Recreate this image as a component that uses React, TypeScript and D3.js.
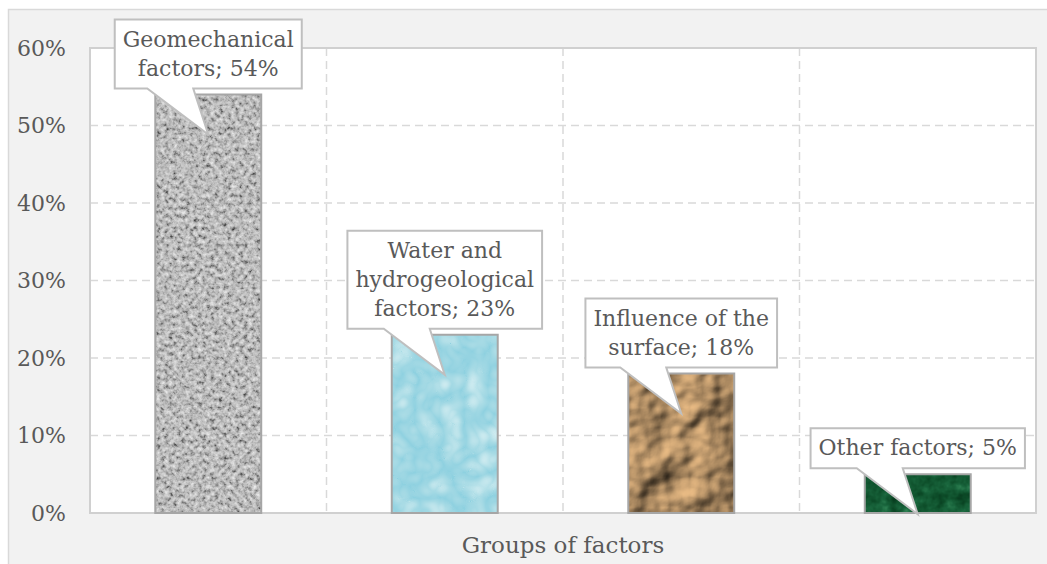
import React, { useEffect, useRef } from 'react';
import * as d3 from 'd3';

// chart data
const categories = ['Geomechanical factors', 'Water and hydrogeological factors', 'Influence of the surface', 'Other factors'];
const values = [54, 23, 18, 5];
const labelLines = [
  ['Geomechanical', 'factors; 54%'],
  ['Water and', 'hydrogeological', 'factors; 23%'],
  ['Influence of the', 'surface; 18%'],
  ['Other factors; 5%'],
];
const yTicks = [0, 10, 20, 30, 40, 50, 60];
const textures = ['granite', 'water', 'crumple', 'marble'];
const axisTitle = 'Groups of factors';

const W = 1047;
const H = 564;
const margin = { top: 48, right: 11, bottom: 51, left: 90 };
// no Times-like serif is installed, DejaVu Serif is the closest
const FONT = "'DejaVu Serif', 'Liberation Serif', serif";
const FS = 22;
const TEXT = '#595959';
const GRID = '#d9d9d9';

const App = () => {
  const svgRef = useRef<SVGSVGElement>(null);

  useEffect(() => {
    const svg = d3.select(svgRef.current);
    svg.selectAll('*').remove();

    const defs = svg.append('defs');
    const gray = '1 0 0 0 0 1 0 0 0 0 1 0 0 0 0 0 0 0 0 1';
    const mkFilter = (id: string) => defs.append('filter').attr('id', id)
      .attr('x', 0).attr('y', 0).attr('width', 1).attr('height', 1)
      .attr('color-interpolation-filters', 'sRGB');

    // granite: grey with dark speckles
    const g1 = mkFilter('granite');
    g1.append('feTurbulence').attr('type', 'fractalNoise').attr('baseFrequency', 0.24).attr('numOctaves', 3).attr('seed', 7);
    g1.append('feColorMatrix').attr('type', 'matrix').attr('values', gray);
    const ct1 = g1.append('feComponentTransfer');
    ['feFuncR', 'feFuncG', 'feFuncB'].forEach(f => ct1.append(f).attr('type', 'table').attr('tableValues', '0.12 0.34 0.6 0.74 0.82 0.9 0.95'));
    g1.append('feComposite').attr('in2', 'SourceAlpha').attr('operator', 'in');

    // water: light blue with drops
    const g2 = mkFilter('water');
    g2.append('feTurbulence').attr('type', 'turbulence').attr('baseFrequency', 0.04).attr('numOctaves', 2).attr('seed', 4);
    g2.append('feColorMatrix').attr('type', 'matrix').attr('values', gray);
    const ct2 = g2.append('feComponentTransfer');
    ct2.append('feFuncR').attr('type', 'table').attr('tableValues', '0.56 0.66 0.8 0.93');
    ct2.append('feFuncG').attr('type', 'table').attr('tableValues', '0.82 0.86 0.92 0.97');
    ct2.append('feFuncB').attr('type', 'table').attr('tableValues', '0.88 0.9 0.94 0.98');
    g2.append('feComposite').attr('in2', 'SourceAlpha').attr('operator', 'in');

    // crumpled brown paper
    const g3 = mkFilter('crumple');
    g3.append('feTurbulence').attr('type', 'fractalNoise').attr('baseFrequency', 0.025).attr('numOctaves', 3).attr('seed', 11).attr('result', 'n');
    const dl = g3.append('feDiffuseLighting').attr('in', 'n').attr('surfaceScale', 8).attr('diffuseConstant', 1.15).attr('lighting-color', '#d4aa78');
    dl.append('feDistantLight').attr('azimuth', 225).attr('elevation', 45);
    g3.append('feComposite').attr('in2', 'SourceAlpha').attr('operator', 'in');

    // dark green marble
    const g4 = mkFilter('marble');
    g4.append('feTurbulence').attr('type', 'fractalNoise').attr('baseFrequency', 0.09).attr('numOctaves', 3).attr('seed', 2);
    g4.append('feColorMatrix').attr('type', 'matrix').attr('values', gray);
    const ct4 = g4.append('feComponentTransfer');
    ct4.append('feFuncR').attr('type', 'table').attr('tableValues', '0.02 0.05 0.1 0.22');
    ct4.append('feFuncG').attr('type', 'table').attr('tableValues', '0.2 0.3 0.4 0.55');
    ct4.append('feFuncB').attr('type', 'table').attr('tableValues', '0.1 0.16 0.24 0.36');
    g4.append('feComposite').attr('in2', 'SourceAlpha').attr('operator', 'in');

    // outer chart area
    svg.append('rect').attr('x', 8.5).attr('y', 9.5).attr('width', W).attr('height', H)
      .attr('fill', '#f2f2f2').attr('stroke', GRID).attr('stroke-width', 1.5);

    const width = W - margin.left - margin.right;
    const height = H - margin.top - margin.bottom;

    const x = d3.scaleBand().domain(categories).range([0, width]).paddingInner(0.552).paddingOuter(0.276);
    const y = d3.scaleLinear().domain([0, 60]).range([height, 0]);

    const chart = svg.append('g').attr('transform', `translate(${margin.left},${margin.top})`);

    chart.append('rect').attr('width', width).attr('height', height).attr('fill', '#fff');

    // gridlines
    chart.selectAll('.hgrid').data(yTicks.filter(d => d > 0 && d < 60)).join('line')
      .attr('x1', 0).attr('x2', width).attr('y1', d => y(d)).attr('y2', d => y(d))
      .attr('stroke', GRID).attr('stroke-width', 1.5).attr('stroke-dasharray', '8,5');
    const step = x.step();
    chart.selectAll('.vgrid').data(categories.slice(1)).join('line')
      .attr('x1', d => x(d)! - (step - x.bandwidth()) / 2).attr('x2', d => x(d)! - (step - x.bandwidth()) / 2)
      .attr('y1', 0).attr('y2', height)
      .attr('stroke', GRID).attr('stroke-width', 1.5).attr('stroke-dasharray', '8,5');

    chart.append('rect').attr('width', width).attr('height', height).attr('fill', 'none')
      .attr('stroke', '#d0d0d0').attr('stroke-width', 2);

    // y axis labels
    chart.selectAll('.ytick').data(yTicks).join('text')
      .attr('x', -24).attr('y', d => y(d)).attr('dy', '0.35em')
      .attr('text-anchor', 'end').attr('font-family', FONT).attr('font-size', FS).attr('fill', TEXT)
      .text(d => `${d}%`);

    // bars
    const bars = chart.selectAll('.bar').data(values).join('g');
    bars.append('rect')
      .attr('x', (d, i) => x(categories[i])!).attr('y', d => y(d))
      .attr('width', x.bandwidth()).attr('height', d => height - y(d))
      .attr('fill', '#000').attr('filter', (d, i) => `url(#${textures[i]})`);
    bars.append('rect')
      .attr('x', (d, i) => x(categories[i])!).attr('y', d => y(d))
      .attr('width', x.bandwidth()).attr('height', d => height - y(d))
      .attr('fill', 'none').attr('stroke', '#a6a6a6').attr('stroke-width', 2);

    // callout labels
    const lineH = 29;
    values.forEach((v, i) => {
      const cx = x(categories[i])! + x.bandwidth() / 2;
      const tipY = y(v) + 40;
      const lines = labelLines[i];
      const boxH = lines.length * lineH + 11;
      const boxB = tipY - 46;
      const boxT = boxB - boxH;
      const lg = chart.append('g');
      const path = lg.append('path');
      const txt = lg.append('text').attr('font-family', FONT).attr('font-size', FS).attr('fill', TEXT).attr('text-anchor', 'middle');
      lines.forEach((l, j) => {
        txt.append('tspan').attr('x', cx).attr('y', boxT + 6 + lineH * j + 21).text(l);
      });
      const tw = (txt.node() as SVGTextElement).getBBox().width;
      const half = tw / 2 + 8;
      const p = d3.path();
      p.moveTo(cx - half, boxT);
      p.lineTo(cx + half, boxT);
      p.lineTo(cx + half, boxB);
      p.lineTo(cx - 15, boxB);
      p.lineTo(cx, tipY);
      p.lineTo(cx - 61, boxB);
      p.lineTo(cx - half, boxB);
      p.closePath();
      path.attr('d', p.toString()).attr('fill', '#fff').attr('stroke', '#bfbfbf').attr('stroke-width', 2);
    });

    // axis title
    svg.append('text').attr('x', margin.left + width / 2).attr('y', 553)
      .attr('text-anchor', 'middle').attr('font-family', FONT).attr('font-size', FS + 1).attr('fill', TEXT)
      .text(axisTitle);
  }, []);

  return (
    <svg ref={svgRef} width={W} height={H} style={{ position: 'absolute', left: 0, top: 0 }} />
  );
};

export default App;
